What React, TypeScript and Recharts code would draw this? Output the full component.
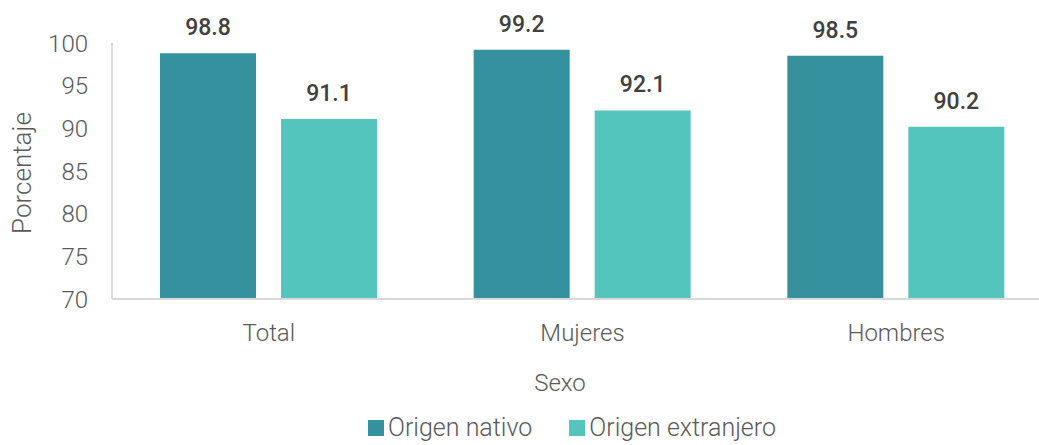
import { BarChart, Bar, XAxis, YAxis, Legend, LabelList, Label } from "recharts";

const categories = ["Total", "Mujeres", "Hombres"];
const nativo = [98.8, 99.2, 98.5];
const extranjero = [91.1, 92.1, 90.2];
const yTicks = [70, 75, 80, 85, 90, 95, 100];

const data = categories.map((sexo, i) => ({
  sexo,
  nativo: nativo[i],
  extranjero: extranjero[i],
}));

const font = "Roboto, 'Noto Sans', sans-serif";

function LegendContent() {
  const items = [
    { name: "Origen nativo", color: "#36919e" },
    { name: "Origen extranjero", color: "#53c5bd" },
  ];
  return (
    <div style={{ display: "flex", justifyContent: "center", paddingLeft: 96, paddingTop: 4, fontFamily: font }}>
      {items.map((it) => (
        <div key={it.name} style={{ display: "flex", alignItems: "center", marginRight: 37 }}>
          <span style={{ width: 16, height: 16, background: it.color, display: "inline-block", marginRight: 4 }} />
          <span style={{ fontSize: 25, fontWeight: 300, color: "#595959" }}>{it.name}</span>
        </div>
      ))}
    </div>
  );
}

export default function App() {
  return (
    <div style={{ position: "fixed", left: 0, top: 0, width: 1039, height: 445, overflow: "hidden", background: "#fff" }}>
      <BarChart
        width={1053}
        height={445}
        data={data}
        margin={{ top: 43, right: 0, bottom: 0, left: 32 }}
        barCategoryGap={48}
        barGap={25}
      >
        <XAxis
          dataKey="sexo"
          height={110}
          tickLine={false}
          tickMargin={19}
          axisLine={{ stroke: "#d9d9d9", strokeWidth: 2 }}
          tick={{ fill: "#595959", fontSize: 24, fontWeight: 300, fontFamily: font }}
        >
          <Label
            content={({ viewBox }: any) => (
              <text
                x={560}
                y={viewBox.y + 92}
                textAnchor="middle"
                fill="#595959"
                fontSize={24}
                fontWeight={300}
                fontFamily={font}
              >
                Sexo
              </text>
            )}
          />
        </XAxis>
        <YAxis
          domain={[70, 100]}
          ticks={yTicks}
          width={80}
          tickSize={0}
          tickMargin={24}
          interval={0}
          axisLine={{ stroke: "#d9d9d9", strokeWidth: 2 }}
          tick={{ fill: "#595959", fontSize: 24, fontWeight: 300, fontFamily: font }}
        >
          <Label
            content={({ viewBox }: any) => (
              <text
                x={31}
                y={viewBox.y + viewBox.height / 2 + 2}
                transform={`rotate(-90 31 ${viewBox.y + viewBox.height / 2 + 2})`}
                textAnchor="middle"
                fill="#595959"
                fontSize={26}
                fontWeight={300}
                fontFamily={font}
              >
                Porcentaje
              </text>
            )}
          />
        </YAxis>
        <Legend verticalAlign="bottom" height={36} content={<LegendContent />} />
        <Bar dataKey="nativo" name="Origen nativo" fill="#36919e" isAnimationActive={false}>
          <LabelList
            dataKey="nativo"
            position="top"
            offset={18}
            fill="#404040"
            fontSize={23}
            fontWeight={500}
            fontFamily={font}
          />
        </Bar>
        <Bar dataKey="extranjero" name="Origen extranjero" fill="#53c5bd" isAnimationActive={false}>
          <LabelList
            dataKey="extranjero"
            position="top"
            offset={18}
            fill="#404040"
            fontSize={23}
            fontWeight={500}
            fontFamily={font}
          />
        </Bar>
      </BarChart>
    </div>
  );
}
